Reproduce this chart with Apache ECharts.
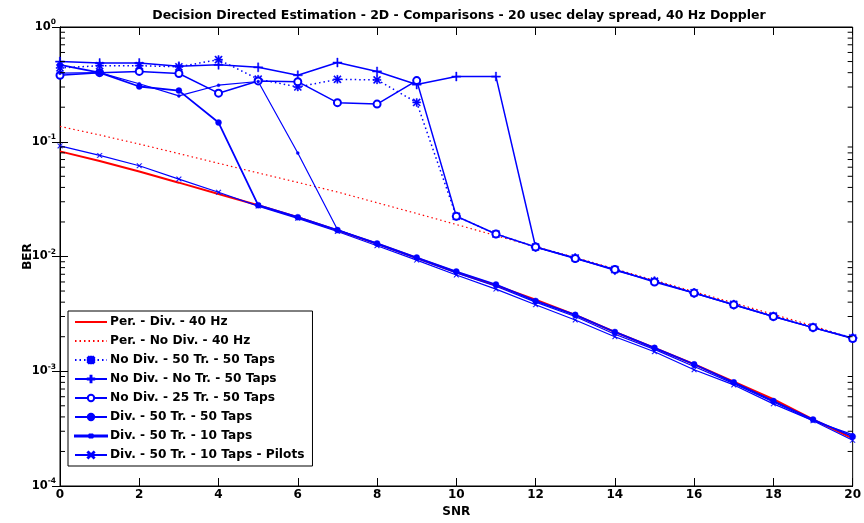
<!DOCTYPE html>
<html><head><meta charset="utf-8">
<script src="https://cdn.jsdelivr.net/npm/echarts@6/dist/echarts.min.js"></script>
<style>html,body{margin:0;padding:0;background:#fff}#c{width:864px;height:523px}</style>
</head><body><div id="c"></div>
<script>
const snr = [0,1,2,3,4,5,6,7,8,9,10,11,12,13,14,15,16,17,18,19,20];
const xTicks = [0,2,4,6,8,10,12,14,16,18,20];
const yMinor = [2e-4,3e-4,4e-4,5e-4,6e-4,7e-4,8e-4,9e-4,2e-3,3e-3,4e-3,5e-3,6e-3,7e-3,8e-3,9e-3,2e-2,3e-2,4e-2,5e-2,6e-2,7e-2,8e-2,9e-2,0.2,0.3,0.4,0.5,0.6,0.7,0.8,0.9];
const names = ['Per. - Div. - 40 Hz','Per. - No Div. - 40 Hz','No Div. - 50 Tr. - 50 Taps','No Div. - No Tr. - 50 Taps','No Div. - 25 Tr. - 50 Taps','Div. - 50 Tr. - 50 Taps','Div. - 50 Tr. - 10 Taps','Div. - 50 Tr. - 10 Taps - Pilots'];
const perDiv = [0.0824,0.068,0.055,0.044,0.035,0.028,0.022,0.0169,0.0129,0.0097,0.0073,0.0056,0.0042,0.0031,0.0022,0.0016,0.00115,0.00081,0.00057,0.00038,0.00026];
const perNoDiv = [0.136,0.1146,0.0955,0.0788,0.0649,0.0535,0.0442,0.0365,0.0294,0.0237,0.019,0.0152,0.0122,0.0098,0.0078,0.0062,0.00494,0.00394,0.00313,0.00249,0.00192];
const noDiv50Tr = [0.44,0.46,0.46,0.45,0.52,0.351,0.30,0.35,0.346,0.22,0.0224,0.0157,0.0121,0.0097,0.0077,0.0061,0.00483,0.00383,0.00303,0.00243,0.00195];
const noDivNoTr = [0.50,0.485,0.485,0.455,0.468,0.445,0.38,0.49,0.41,0.315,0.37,0.37,0.0121,0.0097,0.0076,0.0061,0.0048,0.0038,0.0030,0.0024,0.00195];
const noDiv25Tr = [0.38,0.40,0.41,0.393,0.265,0.339,0.334,0.219,0.213,0.341,0.0224,0.0157,0.0121,0.0096,0.0077,0.006,0.0048,0.0038,0.003,0.0024,0.00193];
const div50x50 = [0.467,0.40,0.303,0.279,0.147,0.028,0.022,0.0170,0.0130,0.0098,0.0074,0.0057,0.0041,0.0031,0.0022,0.0016,0.00115,0.0008,0.00055,0.00038,0.00027];
const div50x10 = [0.396,0.40,0.32,0.251,0.311,0.335,0.0797,0.0172,0.0128,0.0096,0.0072,0.0055,0.0040,0.0030,0.0021,0.00155,0.0011,0.00078,0.00054,0.00037,0.00028];
const pilots = [0.092,0.076,0.0618,0.0473,0.0363,0.0275,0.0215,0.0165,0.0124,0.0093,0.0069,0.0052,0.0038,0.0028,0.0020,0.00148,0.00103,0.00076,0.00052,0.00037,0.00025];

const FONT = '"DejaVu Sans", sans-serif';
const BLUE = '#0000ff', RED = '#ff0000';
const plus = 'path://M4.3,0h1.4v10h-1.4z M0,4.3h10v1.4h-10z';
const cross = 'path://M0.9,0l9.1,9.1l-0.9,0.9l-9.1,-9.1z M9.1,0l0.9,0.9l-9.1,9.1l-0.9,-0.9z';
const star = 'path://M4.2,0h1.6v10h-1.6z M0,4.2h10v1.6h-10z M1.3,0.2l8.5,8.5l-1.1,1.1l-8.5,-8.5z M8.7,0.2l1.1,1.1l-8.5,8.5l-1.1,-1.1z';
const pointLineIcon = 'path://M0,2.55h32v0.9h-32z M14.8,1.6h2.4v2.8h-2.4z M14.4,2h3.2v2h-3.2z';
const pairs = a => snr.map((s,i)=>[s,a[i]]);

function lineSeries(name, data, color, opts) {
  return Object.assign({
    name, type:'line', data: pairs(data), xAxisIndex:0, yAxisIndex:0,
    showSymbol:true, symbol:'none', symbolSize:6,
    lineStyle:{color, width:1.5, type:'solid'},
    itemStyle:{color, borderColor:color, borderWidth:0.4},
    emphasis:{disabled:true}, animation:false, z:3
  }, opts || {});
}

const series = [
  lineSeries(names[0], perDiv, RED, {lineStyle:{color:RED,width:2}}),
  lineSeries(names[1], perNoDiv, RED, {lineStyle:{color:RED,width:1.2,type:[1.5,3]}}),
  lineSeries(names[2], noDiv50Tr, BLUE, {symbol:star, symbolSize:8, lineStyle:{color:BLUE,width:1.5,type:[1.5,3]}}),
  lineSeries(names[3], noDivNoTr, BLUE, {symbol:plus, symbolSize:9}),
  lineSeries(names[4], noDiv25Tr, BLUE, {symbol:'emptyCircle', symbolSize:7, itemStyle:{color:BLUE, borderColor:BLUE, borderWidth:1.3}}),
  lineSeries(names[5], div50x50, BLUE, {symbol:'circle', symbolSize:6, lineStyle:{color:BLUE,width:1.8}}),
  lineSeries(names[6], div50x10, BLUE, {symbol:'circle', symbolSize:3, lineStyle:{color:BLUE,width:1.2}}),
  lineSeries(names[7], pilots, BLUE, {symbol:cross, symbolSize:5, lineStyle:{color:BLUE,width:1.2}}),
  {
    type:'custom', name:'minorTicks', silent:true, animation:false, z:5,
    xAxisIndex:0, yAxisIndex:0,
    data: yMinor.map(v=>[0,v]),
    renderItem: function(params, api){
      const p = api.coord([0, api.value(1)]);
      const cs = params.coordSys;
      return {type:'group', children:[
        {type:'line', shape:{x1:cs.x, y1:p[1], x2:cs.x+5, y2:p[1]}, style:{stroke:'#000', lineWidth:1}},
        {type:'line', shape:{x1:cs.x+cs.width-5, y1:p[1], x2:cs.x+cs.width, y2:p[1]}, style:{stroke:'#000', lineWidth:1}}
      ]};
    }
  }
];

const yFmt = v => { const e = Math.round(Math.log10(v)); return '{b|10}{e|' + e + '}'; };
const axisLabelRich = {
  b:{fontFamily:FONT, fontWeight:'bold', fontSize:11.5, color:'#000'},
  e:{fontFamily:FONT, fontWeight:'bold', fontSize:7.5, color:'#000', verticalAlign:'bottom', padding:[0,0,9,0]}
};
const legendData = names.map((n,i) => {
  if (i < 2) return {name:n, itemStyle:{opacity:0}};
  if (i === 6) return {name:n, icon:pointLineIcon};
  return {name:n};
});

const option = {
  backgroundColor:'#fff',
  animation:false,
  title:{
    text:'Decision Directed Estimation - 2D - Comparisons - 20 usec delay spread, 40 Hz Doppler',
    left:454, top:4, textAlign:'center',
    textStyle:{fontFamily:FONT, fontWeight:'bold', fontSize:12.5, color:'#000'}
  },
  grid:{left:60, right:11, top:27, bottom:36, show:true, borderColor:'#000', borderWidth:1, backgroundColor:'#fff'},
  legend:{
    data:legendData, orient:'vertical', left:68, top:311,
    backgroundColor:'#fff', borderColor:'#000', borderWidth:1, borderRadius:0,
    padding:[5,8,5,6], itemWidth:32, itemHeight:8, itemGap:7,
    textStyle:{fontFamily:FONT, fontWeight:'bold', fontSize:12.2, color:'#000', padding:[0,0,0,-2]},
    selectedMode:false
  },
  xAxis:[
    {type:'value', min:0, max:20, interval:2, position:'bottom',
     name:'SNR', nameLocation:'middle', nameGap:20,
     nameTextStyle:{fontFamily:FONT, fontWeight:'bold', fontSize:12, color:'#000'},
     axisLine:{show:true, lineStyle:{color:'#000', width:1}},
     axisTick:{show:true, inside:true, length:8, lineStyle:{color:'#000'}},
     axisLabel:{fontFamily:FONT, fontWeight:'bold', fontSize:12, color:'#000', margin:3, customValues:xTicks},
     splitLine:{show:false}},
    {type:'value', min:0, max:20, interval:2, position:'top',
     axisLine:{show:true, lineStyle:{color:'#000', width:1}},
     axisTick:{show:true, inside:true, length:8, lineStyle:{color:'#000'}},
     axisLabel:{show:false}, splitLine:{show:false}}
  ],
  yAxis:[
    {type:'log', logBase:10, min:1e-4, max:1, position:'left',
     name:'BER', nameLocation:'middle', nameGap:26, nameMoveOverlap:false,
     nameTextStyle:{fontFamily:FONT, fontWeight:'bold', fontSize:12, color:'#000'},
     axisLine:{show:true, lineStyle:{color:'#000', width:1}},
     axisTick:{show:true, inside:true, length:8, lineStyle:{color:'#000'}},
     axisLabel:{formatter:yFmt, rich:axisLabelRich, margin:4},
     splitLine:{show:false}, minorTick:{show:false}},
    {type:'log', logBase:10, min:1e-4, max:1, position:'right',
     axisLine:{show:true, lineStyle:{color:'#000', width:1}},
     axisTick:{show:true, inside:true, length:8, lineStyle:{color:'#000'}},
     axisLabel:{show:false}, splitLine:{show:false}}
  ],
  series
};
const chart = echarts.init(document.getElementById('c'), null, {renderer:'canvas'});
chart.setOption(option);
</script></body></html>
